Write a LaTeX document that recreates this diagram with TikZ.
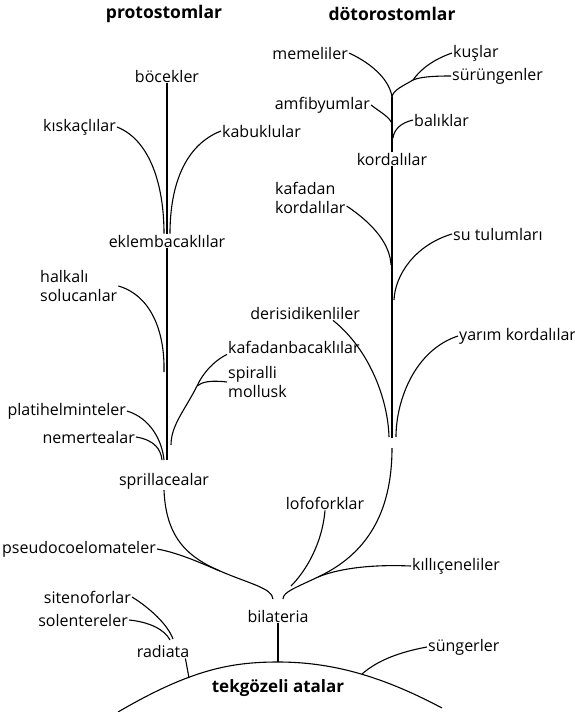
\documentclass[tikz,border=0pt]{standalone}
\usepackage{fontspec}
\setmainfont{Open Sans}
\begin{document}
\begin{tikzpicture}[x=1pt, y=-1pt,
    tur/.style={font=\fontsize{16}{19}\selectfont, inner sep=1pt},
    grup/.style={font=\fontsize{17.5}{20}\selectfont\bfseries, inner sep=1pt},
    dal/.style={line width=1.1pt}]
    \useasboundingbox (0,0) rectangle (575,712);

    % ust basliklar
    \node[grup] (proto) at (164,14) {protostomlar};
    \node[grup] (deuto) at (392,14) {dötorostomlar};

    % protostomlar: eklembacaklilar
    \node[tur] (bocek) at (167,76) {böcekler};
    \node[tur, anchor=east] (kiskac) at (117,127) {kıskaçlılar};
    \node[tur, anchor=west] (kabuk) at (221,131) {kabuklular};
    \node[tur] (eklem) at (167,241) {eklembacaklılar};
    \draw[dal] (bocek.south) -- (eklem.north);
    \draw[dal] (kiskac.east) .. controls (150,140) and (164,185) .. ([xshift=-3pt]eklem.north);
    \draw[dal] (kabuk.west) .. controls (185,145) and (170,185) .. ([xshift=3pt]eklem.north);

    % protostomlar: alt dallar
    \node[tur, align=left, anchor=west] (halka) at (39,286) {halkalı\\solucanlar};
    \node[tur, anchor=west] (kafbac) at (227,347) {kafadanbacaklılar};
    \node[tur, align=left, anchor=west] (spir) at (227,382) {spiralli\\mollusk};
    \node[tur, anchor=east] (plati) at (127,411) {platihelminteler};
    \node[tur, anchor=east] (nemer) at (136,437) {nemertealar};
    \node[tur] (spril) at (164,481) {sprillacealar};
    \coordinate (halkaUc) at (164,372);
    \coordinate (molJ) at (197,386);
    \coordinate (molUc) at (171,445);
    \coordinate (sprJ) at (167,460);
    \draw[dal] (eklem.south) -- (sprJ);
    \draw[dal] (halka.east) .. controls (150,295) and (165,330) .. (halkaUc);
    \draw[dal] (kafbac.south west) .. controls (212,362) and (202,375) .. (molJ)
        .. controls (185,410) and (171,425) .. (molUc);
    \draw[dal] (spir.west) .. controls (210,380) and (202,382) .. (molJ);
    \draw[dal] (plati.east) .. controls (150,418) and (162,440) .. ([xshift=-3pt]sprJ);
    \draw[dal] (nemer.east) .. controls (155,440) and (161,450) .. ([xshift=-5pt]sprJ);

    % dotorostomlar: kordalilar
    \node[tur, anchor=east] (memel) at (349,53) {memeliler};
    \node[tur, anchor=west] (kus) at (452,53) {kuşlar};
    \node[tur, anchor=west] (surun) at (451,76) {sürüngenler};
    \node[tur, anchor=east] (amfi) at (371,105) {amfibyumlar};
    \node[tur, anchor=west] (balik) at (413,120) {balıklar};
    \node[tur] (korda) at (392,159) {kordalılar};
    \coordinate (memJ) at (392,97);
    \coordinate (kusJ) at (413,80);
    \coordinate (amfJ) at (392,124);
    \coordinate (balJ) at (393,138);
    \draw[dal] (memJ) -- (korda.north);
    \draw[dal] (memel.east) .. controls (375,65) and (390,82) .. (memJ);
    \draw[dal] (kus.west) .. controls (432,60) and (420,70) .. (kusJ)
        .. controls (403,86) and (393,90) .. (memJ);
    \draw[dal] (surun.west) .. controls (432,76) and (420,77) .. (kusJ);
    \draw[dal] (amfi.east) .. controls (380,112) and (390,117) .. (amfJ);
    \draw[dal] (balik.west) .. controls (400,123) and (394,130) .. (balJ);

    % dotorostomlar: alt dallar
    \node[tur, align=left, anchor=west] (kafkor) at (274,198) {kafadan\\kordalılar};
    \node[tur, anchor=west] (sutul) at (452,234) {su tulumları};
    \node[tur, anchor=east] (deris) at (361,313) {derisidikenliler};
    \node[tur, anchor=west] (yarim) at (458,336) {yarım kordalılar};
    \coordinate (kafJ) at (391,265);
    \coordinate (sutJ) at (394,300);
    \coordinate (derJ) at (389,437);
    \coordinate (yarJ) at (396,437);
    \coordinate (deuUst) at (392,438);
    \draw[dal] (korda.south) -- (deuUst);
    \draw[dal] ([yshift=-8pt]kafkor.east) .. controls (375,225) and (390,245) .. (kafJ);
    \draw[dal] (sutul.west) .. controls (415,245) and (395,275) .. (sutJ);
    \draw[dal] ([xshift=-28pt]deris.south east) .. controls (370,350) and (388,400) .. (derJ);
    \draw[dal] (yarim.west) .. controls (415,350) and (396,400) .. (yarJ);

    % bilateria
    \node[tur] (bila) at (278,616) {bilateria};
    \node[tur, anchor=east] (pseudo) at (157,549) {pseudocoelomateler};
    \node[tur] (lofo) at (325,503) {lofoforklar};
    \node[tur, anchor=west] (kilc) at (411,566) {kıllıçeneliler};
    \coordinate (pseJ) at (220,571);
    \coordinate (bilaL) at (273,599);
    \coordinate (bilaR) at (283,599);
    \coordinate (lofoUc) at (291,586);
    \coordinate (deuJ) at (318,577);
    \coordinate (deuAlt) at (392,448);
    \draw[dal] (spril.south) .. controls (166,540) and (190,558) .. (pseJ)
        .. controls (250,584) and (272,588) .. (bilaL);
    \draw[dal] (pseudo.east) .. controls (180,553) and (205,565) .. (pseJ);
    \draw[dal] (lofo.south) .. controls (322,545) and (305,572) .. (lofoUc);
    \draw[dal] (kilc.west) .. controls (365,564) and (335,570) .. (deuJ)
        .. controls (295,588) and (283,592) .. (bilaR);
    \draw[dal] (deuAlt) .. controls (392,515) and (365,555) .. (deuJ);

    % taban: tekgozeli atalar
    \node[tur] (radi) at (163,651) {radiata};
    \node[tur, anchor=east] (siten) at (132,597) {sitenoforlar};
    \node[tur, anchor=east] (solen) at (129,620) {solentereler};
    \node[tur, anchor=west] (sunger) at (427,647) {süngerler};
    \node[font=\fontsize{17}{20}\selectfont\bfseries] (ata) at (278,688) {tekgözeli atalar};
    \coordinate (tabanL) at (118,712);
    \coordinate (tabanO) at (278,662);
    \coordinate (tabanR) at (442,708);
    \coordinate (radJ) at (189,678);
    \coordinate (sunJ) at (362,674);
    \coordinate (radUst1) at (173,639);
    \coordinate (radUst2) at (170,640);
    \draw[dal] (tabanL) .. controls (190,670) and (230,662) .. (tabanO)
        .. controls (330,662) and (380,675) .. (tabanR);
    \draw[dal] (bila.south) -- (tabanO);
    \draw[dal] ([xshift=-5pt]radi.south east) -- (radJ);
    \draw[dal] (siten.east) .. controls (150,608) and (168,625) .. (radUst1);
    \draw[dal] (solen.east) .. controls (150,622) and (165,630) .. (radUst2);
    \draw[dal] (sunger.west) .. controls (400,652) and (378,660) .. (sunJ);
\end{tikzpicture}
\end{document}
